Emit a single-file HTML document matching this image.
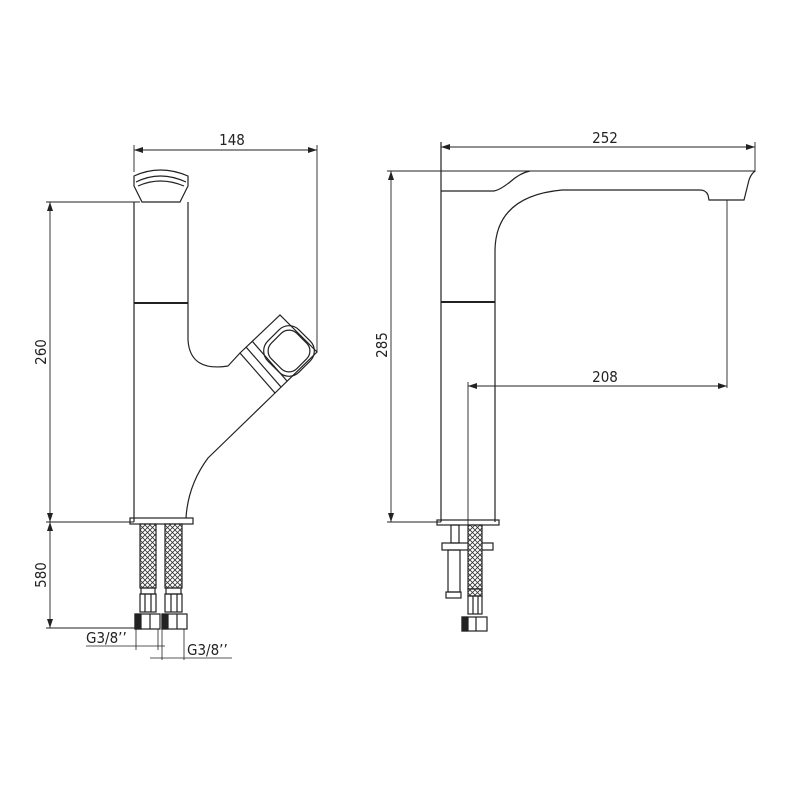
<!DOCTYPE html>
<html><head><style>
html,body{margin:0;padding:0;background:#fff;}
svg{display:block;}
text{font-family:"DejaVu Sans Condensed","Liberation Sans",sans-serif;font-size:15px;fill:#222;}
</style></head><body>
<svg width="800" height="800" viewBox="0 0 800 800" xmlns="http://www.w3.org/2000/svg">
<defs>
<pattern id="mesh" width="5" height="5" patternUnits="userSpaceOnUse">
<rect width="5" height="5" fill="#fff"/>
<path d="M0 0L5 5M5 0L0 5" stroke="#333" stroke-width="0.8"/>
</pattern>
<marker id="a" markerWidth="10" markerHeight="6" refX="9" refY="3" orient="auto-start-reverse" markerUnits="userSpaceOnUse"><path d="M0 0L9 3L0 6z" fill="#222"/></marker>
</defs>
<g fill="none" stroke="#222" stroke-width="1.2">
<line x1="134" y1="150" x2="317" y2="150" stroke-width="0.9" marker-start="url(#a)" marker-end="url(#a)"/>
<line x1="134" y1="145" x2="134" y2="172" stroke-width="0.9"/>
<line x1="317" y1="145" x2="317" y2="352" stroke-width="0.9"/>
<line x1="46" y1="202" x2="140" y2="202" stroke-width="0.9"/>
<line x1="50" y1="202" x2="50" y2="522" stroke-width="0.9" marker-start="url(#a)" marker-end="url(#a)"/>
<line x1="46" y1="522" x2="134" y2="522" stroke-width="0.9"/>
<line x1="50" y1="522" x2="50" y2="628" stroke-width="0.9" marker-start="url(#a)" marker-end="url(#a)"/>
<line x1="46" y1="628" x2="136" y2="628" stroke-width="0.9"/>
<path d="M134 176 Q160 164 188 176 L188 186 L180 202 L142 202 L134 186 Z"/>
<path d="M136 182 Q160 170 186 182 M138 186 Q160 176 184 186"/>
<line x1="134" y1="202" x2="134" y2="522"/>
<path d="M188 202 L188 340 Q190 372 228 366 L240 353"/>
<line x1="134" y1="303" x2="188" y2="303" stroke-width="2"/>
<path d="M240 353 L280 315 L317 352 L275 393 Z"/>
<path d="M246 347 L281 387 M252 341 L287 381"/>
<rect x="267" y="329" width="44" height="44" rx="14" transform="rotate(45 289 351)"/>
<rect x="271" y="333" width="36" height="36" rx="11" transform="rotate(45 289 351)"/>
<path d="M275 393 L208 458 Q188 485 186 518"/>
<rect x="130" y="518" width="63" height="6"/>
<rect x="140" y="524" width="16" height="64" fill="url(#mesh)"/>
<rect x="165" y="524" width="17" height="64" fill="url(#mesh)"/>
<rect x="141" y="588" width="14" height="6"/><rect x="166" y="588" width="15" height="6"/>
<rect x="140" y="594" width="16" height="18"/><rect x="165" y="594" width="17" height="18"/>
<line x1="145" y1="594" x2="145" y2="612"/><line x1="151" y1="594" x2="151" y2="612"/>
<line x1="171" y1="594" x2="171" y2="612"/><line x1="177" y1="594" x2="177" y2="612"/>
<rect x="135" y="614" width="25" height="15"/><rect x="162" y="614" width="25" height="15"/>
<rect x="135" y="614" width="6" height="15" fill="#222"/><rect x="162" y="614" width="6" height="15" fill="#222"/>
<line x1="150" y1="614" x2="150" y2="629"/><line x1="177" y1="614" x2="177" y2="629"/>
<line x1="136" y1="629" x2="136" y2="650" stroke-width="0.8"/>
<line x1="158" y1="629" x2="158" y2="650" stroke-width="0.8"/>
<line x1="162" y1="629" x2="162" y2="660" stroke-width="0.8"/>
<line x1="184" y1="629" x2="184" y2="660" stroke-width="0.8"/>
<line x1="86" y1="646" x2="165" y2="646" stroke-width="0.8"/>
<line x1="150" y1="658" x2="232" y2="658" stroke-width="0.8"/>
<line x1="441" y1="147" x2="755" y2="147" stroke-width="0.9" marker-start="url(#a)" marker-end="url(#a)"/>
<line x1="441" y1="142" x2="441" y2="522"/>
<line x1="755" y1="142" x2="755" y2="172" stroke-width="0.9"/>
<line x1="387" y1="171" x2="755" y2="171" stroke-width="0.9"/>
<line x1="391" y1="171" x2="391" y2="522" stroke-width="0.9" marker-start="url(#a)" marker-end="url(#a)"/>
<line x1="387" y1="522" x2="441" y2="522" stroke-width="0.9"/>
<path d="M441 191 L494 191 Q500 190 510 182 Q520 173 530 171"/>
<path d="M755 171 Q751 174 749 180 L744 200 L709 200 L708 195 Q706 190 700 190 L562 190 Q496 196 495 250 L495 522"/>
<line x1="441" y1="302" x2="495" y2="302" stroke-width="2"/>
<line x1="727" y1="200" x2="727" y2="388" stroke-width="0.9"/>
<line x1="468" y1="386" x2="727" y2="386" stroke-width="0.9" marker-start="url(#a)" marker-end="url(#a)"/>
<line x1="468" y1="382" x2="468" y2="525" stroke-width="0.9"/>
<rect x="437" y="520" width="62" height="5"/>
<rect x="451" y="525" width="8" height="18"/>
<rect x="442" y="543" width="51" height="7"/>
<rect x="448" y="550" width="12" height="42"/>
<rect x="446" y="592" width="15" height="6"/>
<rect x="468" y="525" width="14" height="64" fill="url(#mesh)"/>
<rect x="468" y="589" width="14" height="7" fill="url(#mesh)"/>
<rect x="468" y="596" width="14" height="18"/>
<line x1="473" y1="596" x2="473" y2="614"/><line x1="478" y1="596" x2="478" y2="614"/>
<rect x="462" y="617" width="25" height="14"/>
<rect x="462" y="617" width="6" height="14" fill="#222"/>
<line x1="476" y1="617" x2="476" y2="631"/>
</g>
<text x="232" y="145" text-anchor="middle">148</text>
<text x="605" y="143" text-anchor="middle">252</text>
<text x="605" y="382" text-anchor="middle">208</text>
<text transform="translate(46,352) rotate(-90)" text-anchor="middle">260</text>
<text transform="translate(46,575) rotate(-90)" text-anchor="middle">580</text>
<text transform="translate(387,345) rotate(-90)" text-anchor="middle">285</text>
<text x="86" y="643">G3/8’’</text>
<text x="187" y="655">G3/8’’</text>
</svg>
</body></html>
